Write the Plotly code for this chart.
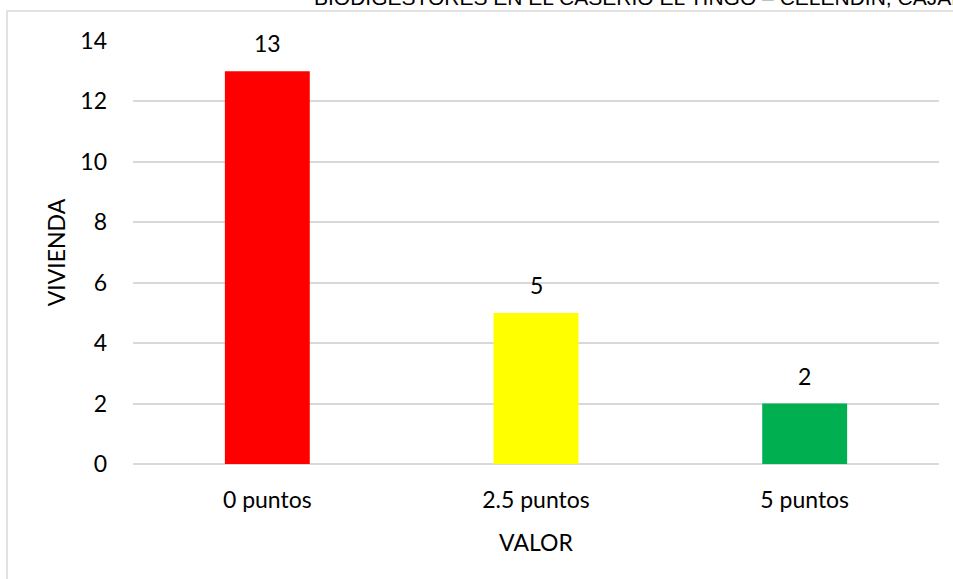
import plotly.graph_objects as go

categorias = ["0 puntos", "2.5 puntos", "5 puntos"]
viviendas = [13, 5, 2]
colores = ["#FF0000", "#FFFF00", "#00B050"]
titulo = "BIODIGESTORES EN EL CASERÍO EL TINGO – CELENDÍN, CAJAMARCA"

W, H = 953, 579
L, R, T, B = 133, 14, 41, 115
pw, ph = W - L - R, H - T - B

fig = go.Figure()
fig.add_trace(go.Bar(
    x=categorias,
    y=viviendas,
    marker_color=colores,
    marker_line_width=0,
    width=0.316,
))

for c, v in zip(categorias, viviendas):
    fig.add_annotation(x=c, y=v, text=str(v), showarrow=False,
                       yanchor="bottom", yshift=12,
                       font=dict(family="Lato", size=23, color="#000000"))

# titulo cortado en la parte superior
fig.add_annotation(xref="paper", yref="paper",
                   x=(312 - L) / pw, y=1 + (T - 11) / ph,
                   xanchor="left", yanchor="bottom", showarrow=False,
                   text=titulo,
                   font=dict(family="Liberation Sans", size=21, color="#000000"))

# borde del grafico
fig.add_shape(type="rect", xref="paper", yref="paper",
              x0=(7 - L) / pw, x1=(W + 20 - L) / pw,
              y0=-(B + 20) / ph, y1=1 + (T - 11) / ph,
              line=dict(color="#D9D9D9", width=1.5), layer="below")

fig.update_layout(
    width=W, height=H,
    margin=dict(l=L, r=R, t=T, b=B),
    plot_bgcolor="white",
    paper_bgcolor="white",
    showlegend=False,
    bargap=0.684,
    font=dict(family="Lato", size=23, color="#000000"),
)
fig.update_xaxes(
    showgrid=False, showline=False, zeroline=False,
    ticks="", ticklabelstandoff=20,
    title=dict(text="VALOR", standoff=22, font=dict(size=23)),
    tickfont=dict(size=23),
)
fig.update_yaxes(
    range=[0, 14], dtick=2,
    showgrid=True, gridcolor="#D9D9D9", gridwidth=1.5,
    zeroline=True, zerolinecolor="#D9D9D9", zerolinewidth=1.5,
    showline=False, ticks="", ticklabelstandoff=25,
    title=dict(text="VIVIENDA", standoff=8, font=dict(size=23)),
    tickfont=dict(size=23),
)

fig.write_html("out.html", config={"displayModeBar": False},
               post_script="document.body.style.margin='0';")
